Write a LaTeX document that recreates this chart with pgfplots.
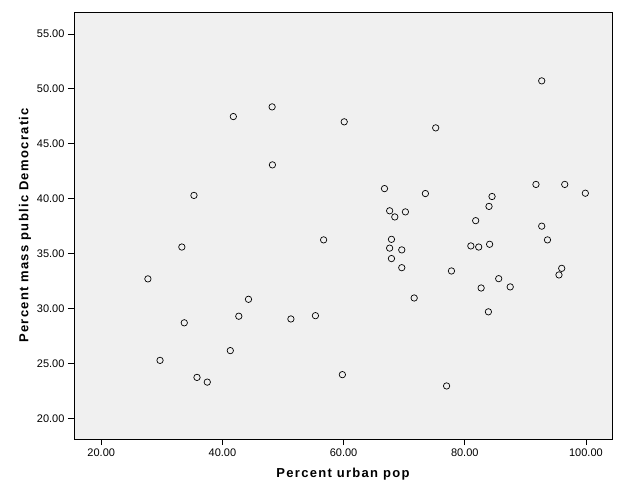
\documentclass[border=0pt]{standalone}
\usepackage{fontspec}
\setmainfont{Liberation Sans}
\newfontfamily\labelfont[LetterSpace=10.0]{Liberation Sans}
\usepackage{pgfplots}
\pgfplotsset{compat=1.18}
\definecolor{plotbg}{HTML}{F0F0F0}
\begin{document}
\begin{tikzpicture}[x=1pt,y=1pt]
\path[use as bounding box] (-74,-60) rectangle (550,439);
\begin{axis}[
  at={(0,0)}, anchor=south west,
  width=538pt, height=427pt, scale only axis,
  xmin=15.5, xmax=104.3, ymin=18.12, ymax=57.0,
  axis background/.style={fill=plotbg},
  xtick={20,40,...,100}, ytick={20,25,...,55},
  tick align=outside, tick pos=left,
  major tick length=6pt,
  tick style={black, line width=0.8pt},
  axis line style={black, line width=0.8pt},
  /pgf/number format/fixed,
  /pgf/number format/fixed zerofill,
  /pgf/number format/precision=2,
  /pgf/number format/assume math mode=true,
  ticklabel style={font=\fontsize{11}{13}\selectfont},
  xlabel={Percent urban pop},
  ylabel={Percent mass public Democratic},
  xlabel style={at={(axis description cs:0.5,-0.082)}, anchor=center, font=\labelfont\bfseries\fontsize{13}{15}\selectfont},
  ylabel style={at={(axis description cs:-0.0911,0.5)}, anchor=center, font=\labelfont\bfseries\fontsize{13}{15}\selectfont},
]
\addplot[only marks, mark=o, mark size=3.2pt, mark options={draw=black, line width=0.7pt}] coordinates {
(27.7,32.7) (29.7,25.28) (33.3,35.6) (33.7,28.7) (35.3,40.3)
(35.8,23.73) (37.5,23.3) (41.3,26.17) (41.8,47.48) (42.7,29.3)
(44.3,30.84) (48.2,48.36) (48.25,43.08) (51.3,29.05) (55.35,29.35)
(56.7,36.25) (59.8,23.98) (60.1,47.0) (66.75,40.92) (67.6,38.9)
(68.45,38.34) (70.2,38.8) (67.9,36.3) (67.6,35.5) (69.6,35.34)
(67.9,34.55) (69.6,33.72) (71.65,30.96) (73.5,40.47) (75.2,46.45)
(77.8,33.42) (77.0,22.95) (81.0,35.7) (82.3,35.6) (84.1,35.85)
(81.8,38.0) (84.0,39.3) (84.5,40.2) (82.7,31.87) (83.9,29.7)
(85.6,32.72) (87.5,31.97) (91.75,41.3) (92.7,50.73) (92.7,37.5)
(93.65,36.25) (96.0,33.66) (95.55,33.06) (96.5,41.3) (99.9,40.5)
};
\end{axis}
\end{tikzpicture}
\end{document}
